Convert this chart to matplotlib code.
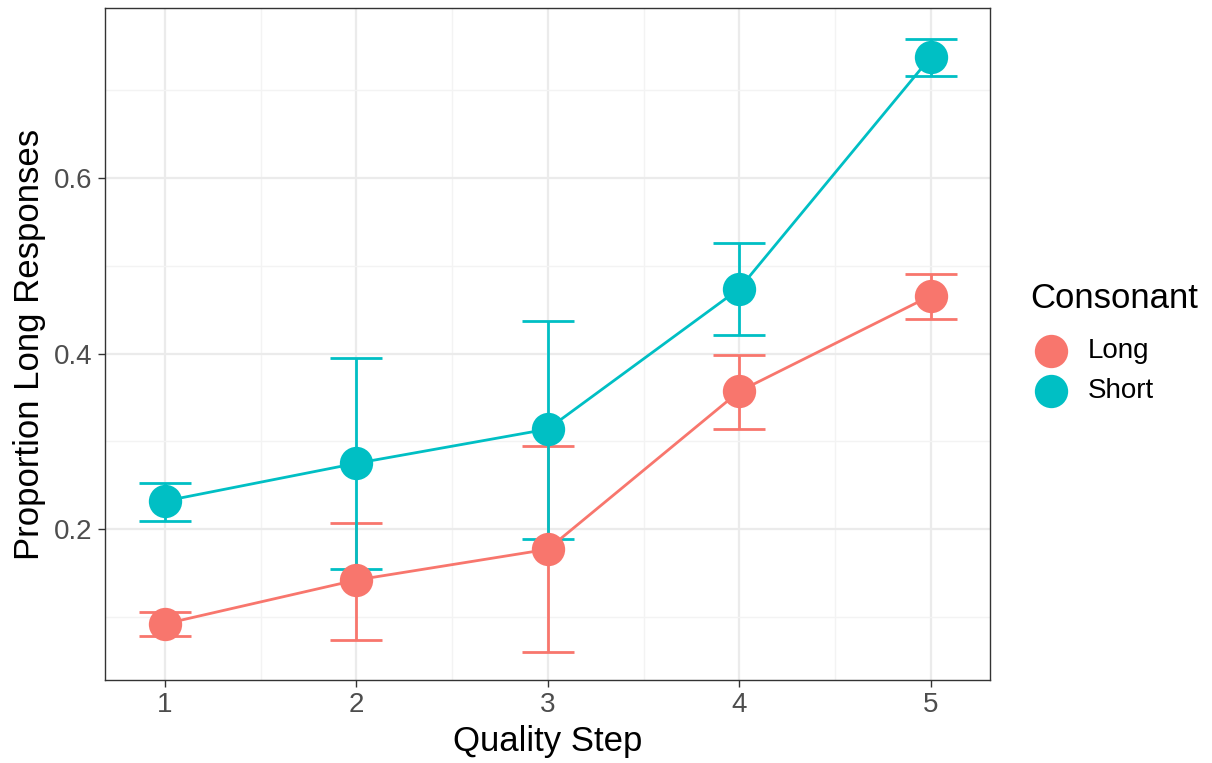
import matplotlib
matplotlib.use("Agg")
import matplotlib.pyplot as plt
from matplotlib.lines import Line2D
from matplotlib.ticker import MultipleLocator

plt.rcParams['font.family'] = ['Liberation Sans', 'DejaVu Sans']

# proportion of "long" responses per quality step, with error bar limits
steps = [1, 2, 3, 4, 5]
long_mean = [0.092, 0.142, 0.177, 0.357, 0.466]
long_lo = [0.078, 0.074, 0.060, 0.314, 0.440]
long_hi = [0.105, 0.207, 0.295, 0.399, 0.491]
short_mean = [0.232, 0.275, 0.314, 0.474, 0.738]
short_lo = [0.209, 0.154, 0.189, 0.421, 0.716]
short_hi = [0.253, 0.395, 0.437, 0.526, 0.759]

groups = ["Long", "Short"]
colors = {"Long": "#F8766D", "Short": "#00BFC4"}
series = {
    "Long": (long_mean, long_lo, long_hi),
    "Short": (short_mean, short_lo, short_hi),
}

W, H = 1212, 763
fig = plt.figure(figsize=(W / 100, H / 100), dpi=100)
ax = fig.add_axes([105 / W, (H - 680) / H, 885 / W, 672 / H])

for g in groups:
    m, lo, hi = series[g]
    c = colors[g]
    yerr = [[mi - l for mi, l in zip(m, lo)], [h - mi for mi, h in zip(m, hi)]]
    ax.errorbar(steps, m, yerr=yerr, fmt='none', ecolor=c, elinewidth=2,
                capsize=19, capthick=2, zorder=3)
    ax.plot(steps, m, color=c, lw=2, zorder=4)
    ax.plot(steps, m, 'o', color=c, ms=24, mec='none', zorder=5)

ax.set_xlim(0.687, 5.31)
ax.set_ylim(0.028, 0.794)
ax.set_xticks(steps)
ax.yaxis.set_minor_locator(MultipleLocator(0.1))
ax.xaxis.set_minor_locator(MultipleLocator(0.5))
ax.set_yticks([0.2, 0.4, 0.6])
ax.set_yticklabels(["0.2", "0.4", "0.6"])

ax.grid(which='major', color='#EBEBEB', lw=1.6, zorder=0)
ax.grid(which='minor', color='#F3F3F3', lw=1.0, zorder=0)
ax.set_axisbelow(True)
for s in ax.spines.values():
    s.set_color('#333333')
    s.set_linewidth(1.0)
ax.tick_params(which='major', length=5, width=1, color='#333333',
               labelsize=20, labelcolor='#4D4D4D', pad=4)
ax.tick_params(which='minor', length=0)

ax.set_xlabel("Quality Step", fontsize=25, color='black', va='center')
ax.xaxis.set_label_coords(0.5, (680 - 741) / 672)
ax.set_ylabel("Proportion Long Responses", fontsize=25, color='black', va='center')
ax.yaxis.set_label_coords((30 - 105) / 885, 0.5)

# legend drawn at figure level
fig.text(1030 / W, 1 - 298 / H, "Consonant", fontsize=25, va='center', ha='left')
for g, y in zip(groups, [351, 391]):
    fig.add_artist(Line2D([1051 / W], [1 - y / H], transform=fig.transFigure,
                          marker='o', ms=24, color=colors[g], mec='none', lw=0))
    fig.text(1088 / W, 1 - y / H, g, fontsize=20, va='center', ha='left')

fig.savefig("out.png", dpi=100, facecolor='white')
